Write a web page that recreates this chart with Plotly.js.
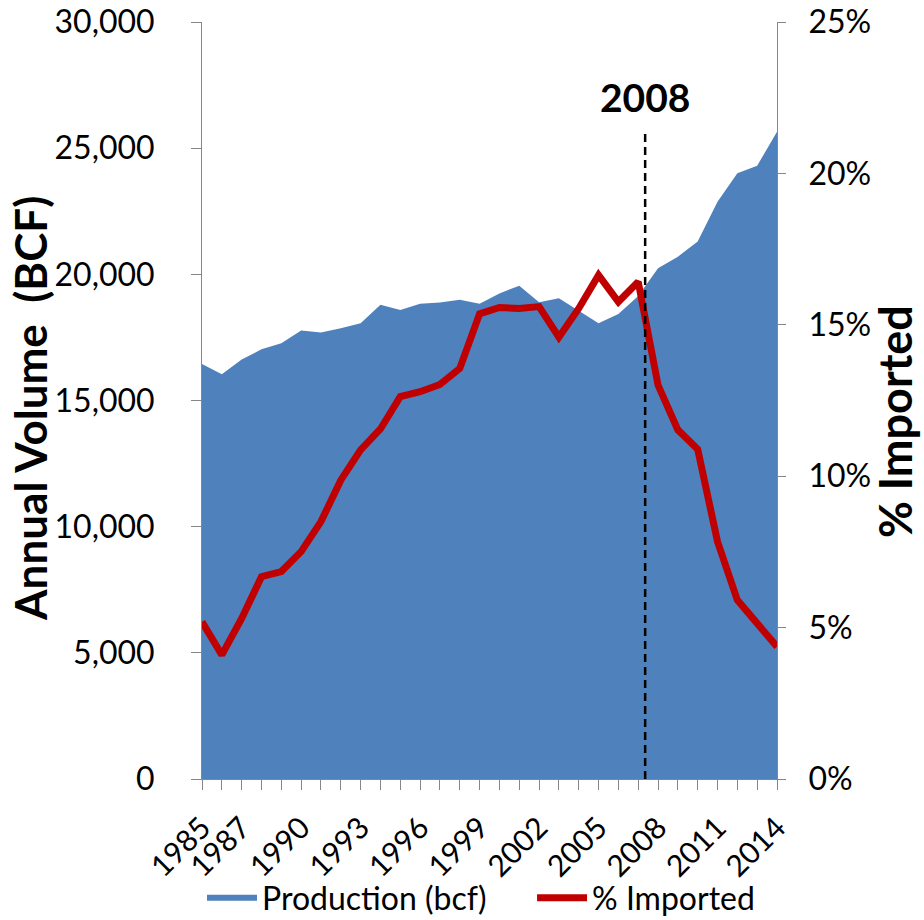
<!DOCTYPE html>
<html>
<head>
<meta charset="utf-8">
<script src="https://cdn.plot.ly/plotly-3.0.1.min.js"></script>
<style>
  html, body { margin: 0; padding: 0; background: #ffffff; }
  #chart { width: 924px; height: 920px; }
</style>
</head>
<body>
<div id="chart"></div>
<script>
// ---- data ----
const years = [1985,1986,1987,1988,1989,1990,1991,1992,1993,1994,1995,1996,1997,1998,1999,
               2000,2001,2002,2003,2004,2005,2006,2007,2008,2009,2010,2011,2012,2013,2014];
const productionBcf = [16450,16040,16620,17030,17270,17770,17690,17860,18060,18790,18590,18830,18880,18990,18830,
                       19240,19550,18890,19050,18560,18060,18430,19140,20240,20700,21300,22880,24010,24300,25650];
const importedPct = [5.19,4.10,5.30,6.68,6.85,7.51,8.50,9.87,10.87,11.56,12.63,12.79,13.03,13.56,15.36,
                     15.57,15.54,15.60,14.59,15.54,16.64,15.76,16.42,13.01,11.53,10.89,7.84,5.91,5.14,4.37];
const labeledYears = [1985,1987,1990,1993,1996,1999,2002,2005,2008,2011,2014];
const markerYear = 2007.35;
const markerLabel = '2008';
const seriesNames = ['Production (bcf)', '% Imported'];
const axisTitles = ['Annual Volume\u00A0 (BCF)', '% Imported'];

const FONT = 'Lato, "Open Sans", sans-serif';
const AXIS_GREY = '#868686';

const tickText = years.map(y => labeledYears.includes(y) ? String(y) : '');

const traces = [
  {
    x: years, y: productionBcf, name: seriesNames[0],
    type: 'scatter', mode: 'none', fill: 'tozeroy',
    fillcolor: '#4F81BD', yaxis: 'y', hoverinfo: 'x+y', legend: 'legend'
  },
  {
    x: years, y: importedPct, name: seriesNames[1],
    type: 'scatter', mode: 'lines',
    line: { color: '#C00000', width: 7 },
    yaxis: 'y2', legend: 'legend2'
  }
];

const legendCommon = {
  orientation: 'h', xref: 'paper', xanchor: 'left',
  yref: 'container', y: 0.024, yanchor: 'middle',
  font: { family: FONT, size: 32, color: '#000000' },
  itemwidth: 50, bgcolor: 'rgba(0,0,0,0)'
};

const layout = {
  width: 924, height: 920,
  margin: { l: 202, r: 147, t: 22, b: 141, pad: 0, autoexpand: false },
  paper_bgcolor: '#ffffff', plot_bgcolor: '#ffffff',
  font: { family: FONT, color: '#000000' },
  showlegend: true,
  legend: Object.assign({}, legendCommon, { x: 0.0 }),
  legend2: Object.assign({}, legendCommon, { x: 0.574 }),
  xaxis: {
    range: [1985, 2014], type: 'linear',
    tickmode: 'array', tickvals: years, ticktext: tickText,
    tickangle: -45, tickfont: { family: FONT, size: 30, color: '#000000' },
    ticks: 'outside', ticklen: 10, tickcolor: AXIS_GREY, tickwidth: 1,
    ticklabelshift: 0, ticklabelstandoff: 8,
    showline: true, linecolor: AXIS_GREY, linewidth: 1,
    showgrid: false, zeroline: false, fixedrange: true,
    automargin: false
  },
  yaxis: {
    range: [0, 30000], tickmode: 'linear', tick0: 0, dtick: 5000, tickformat: ',d',
    tickfont: { family: FONT, size: 32, color: '#000000' },
    ticks: 'outside', ticklen: 10, tickcolor: AXIS_GREY, tickwidth: 1,
    ticklabelstandoff: 30,
    showline: true, linecolor: AXIS_GREY, linewidth: 1,
    showgrid: false, zeroline: false,
    automargin: false
  },
  yaxis2: {
    overlaying: 'y', side: 'right', anchor: 'x',
    range: [0, 25], tickmode: 'linear', tick0: 0, dtick: 5, ticksuffix: '%',
    tickfont: { family: FONT, size: 32, color: '#000000' },
    ticks: 'outside', ticklen: 8, tickcolor: AXIS_GREY, tickwidth: 1,
    ticklabelstandoff: 16,
    showline: true, linecolor: AXIS_GREY, linewidth: 1,
    showgrid: false, zeroline: false,
    automargin: false
  },
  shapes: [
    {
      type: 'line', xref: 'x', yref: 'paper',
      x0: markerYear, x1: markerYear, y0: 0, y1: 0.857,
      line: { color: '#000000', width: 2.5, dash: '8px,5px' }
    }
  ],
  annotations: [
    {
      xref: 'x', yref: 'paper', x: markerYear, y: 0.901,
      xanchor: 'center', yanchor: 'middle', showarrow: false,
      text: '<b>' + markerLabel + '</b>',
      font: { family: FONT, size: 39, color: '#000000' }
    },
    {
      xref: 'paper', yref: 'paper', x: -0.299, y: 0.489,
      xanchor: 'center', yanchor: 'middle', showarrow: false, textangle: -90,
      text: '<b>' + axisTitles[0] + '</b>',
      font: { family: FONT, size: 44, color: '#000000' }
    },
    {
      xref: 'paper', yref: 'paper', x: 1.204, y: 0.472,
      xanchor: 'center', yanchor: 'middle', showarrow: false, textangle: -90,
      text: '<b>' + axisTitles[1] + '</b>',
      font: { family: FONT, size: 45, color: '#000000' }
    }
  ]
};

Plotly.newPlot('chart', traces, layout, { displayModeBar: false, staticPlot: true });
</script>
</body>
</html>
